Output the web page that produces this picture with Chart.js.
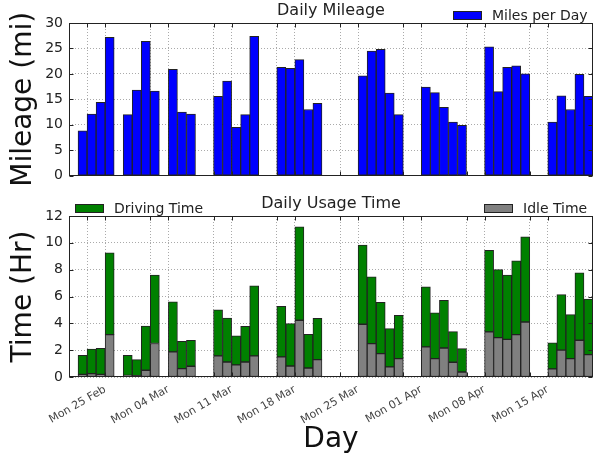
<!DOCTYPE html>
<html>
<head>
<meta charset="utf-8">
<script src="https://cdn.jsdelivr.net/npm/chart.js@4.4.0/dist/chart.umd.min.js"></script>
<style>
  body { margin: 0; background: #fff; }
  #wrap { position: relative; width: 595px; height: 463px; }
  canvas { position: absolute; left: 0; }
  #mileage { top: 0; }
  #usage { top: 190px; }
</style>
</head>
<body>
<div id="wrap">
  <canvas id="mileage" width="595" height="190"></canvas>
  <canvas id="usage" width="595" height="273"></canvas>
</div>
<script>
// days that have a trip, one bar each
const days = [
  '2013-02-22', '2013-02-23', '2013-02-24', '2013-02-25',
  '2013-02-27', '2013-02-28', '2013-03-01', '2013-03-02',
  '2013-03-04', '2013-03-05', '2013-03-06',
  '2013-03-09', '2013-03-10', '2013-03-11', '2013-03-12', '2013-03-13',
  '2013-03-16', '2013-03-17', '2013-03-18', '2013-03-19', '2013-03-20',
  '2013-03-25', '2013-03-26', '2013-03-27', '2013-03-28', '2013-03-29',
  '2013-04-01', '2013-04-02', '2013-04-03', '2013-04-04', '2013-04-05',
  '2013-04-08', '2013-04-09', '2013-04-10', '2013-04-11', '2013-04-12',
  '2013-04-15', '2013-04-16', '2013-04-17', '2013-04-18', '2013-04-19'
];
const miles = [
  8.8, 12.1, 14.4, 27.2,
  12.0, 16.8, 26.4, 16.6,
  20.9, 12.5, 12.1,
  15.6, 18.6, 9.5, 12.0, 27.4,
  21.3, 21.1, 22.8, 13.0, 14.2,
  19.6, 24.5, 24.8, 16.2, 12.0,
  17.4, 16.3, 13.4, 10.5, 9.9,
  25.3, 16.5, 21.3, 21.6, 20.0,
  10.5, 15.7, 13.0, 19.9, 15.6
];
const idleHrs = [
  0.2, 0.25, 0.2, 3.16,
  0.12, 0.1, 0.5, 2.5,
  1.87, 0.62, 0.8,
  1.57, 1.12, 0.9, 1.12, 1.57,
  1.5, 0.82, 4.23, 0.67, 1.3,
  3.93, 2.49, 1.74, 0.75, 1.37,
  2.24, 1.37, 2.16, 1.1, 0.37,
  3.36, 2.94, 2.81, 3.16, 4.1,
  0.6, 2.0, 1.37, 2.74, 1.67
];
const drivingHrs = [
  1.42, 1.84, 1.94, 6.09,
  1.5, 1.2, 3.3, 5.1,
  3.73, 2.04, 1.94,
  3.43, 3.28, 2.16, 2.66, 5.23,
  3.77, 3.16, 6.97, 2.51, 3.08,
  5.9, 4.97, 3.83, 2.85, 3.23,
  4.48, 3.41, 3.56, 2.28, 1.74,
  6.09, 5.06, 4.78, 5.5, 6.35,
  1.94, 4.14, 3.28, 5.02, 4.13
];
const mondays = ['2013-02-25', '2013-03-04', '2013-03-11', '2013-03-18',
                 '2013-03-25', '2013-04-01', '2013-04-08', '2013-04-15'];
const weekLabels = ['Mon 25 Feb', 'Mon 04 Mar', 'Mon 11 Mar', 'Mon 18 Mar',
                    'Mon 25 Mar', 'Mon 01 Apr', 'Mon 08 Apr', 'Mon 15 Apr'];

const START = '2013-02-21';
const SPAN = 58;
const dayIndex = d => (Date.parse(d) - Date.parse(START)) / 86400000;
const mondayX = mondays.map(dayIndex);
// major lines on mondays, minor on the saturday before
const gridX = mondayX.flatMap(m => [m - 2, m]).filter(v => v > 0 && v < SPAN);

Chart.defaults.font.family = 'DejaVu Sans';
Chart.defaults.color = '#222';
Chart.defaults.animation = false;

const GRID = '#aaa';

const boxPlugin = {
  id: 'box',
  afterDatasetsDraw(chart, args, opts) {
    const {ctx, chartArea: a, scales} = chart;
    const L = Math.round(a.left) + 0.5, R = Math.round(a.right) - 0.5;
    const T = Math.round(a.top) + 0.5, B = Math.round(a.bottom) - 0.5;
    ctx.save();
    ctx.strokeStyle = '#222';
    ctx.lineWidth = 1;
    ctx.beginPath();
    scales.x.ticks.forEach(t => {
      const px = Math.round(scales.x.getPixelForValue(t.value)) + 0.5;
      ctx.moveTo(px, B); ctx.lineTo(px, B - 4);
      ctx.moveTo(px, T); ctx.lineTo(px, T + 4);
    });
    scales.y.ticks.forEach(t => {
      const py = Math.round(scales.y.getPixelForValue(t.value)) + 0.5;
      ctx.moveTo(L, py); ctx.lineTo(L + 4, py);
      ctx.moveTo(R, py); ctx.lineTo(R - 4, py);
    });
    ctx.stroke();
    ctx.strokeRect(L, T, R - L, B - T);

    // title
    ctx.fillStyle = '#222';
    ctx.font = '16px "DejaVu Sans"';
    ctx.textAlign = 'center';
    ctx.textBaseline = 'middle';
    ctx.fillText(opts.title, (a.left + a.right) / 2, opts.titleY);

    // legend entries
    ctx.font = '14px "DejaVu Sans"';
    ctx.textAlign = 'left';
    opts.legend.forEach(item => {
      const ds = chart.data.datasets[item.dataset];
      ctx.fillStyle = ds.backgroundColor;
      ctx.fillRect(item.x, item.y, 29, 9);
      ctx.strokeStyle = '#222';
      ctx.strokeRect(item.x + 0.5, item.y + 0.5, 28, 8);
      ctx.fillStyle = '#222';
      ctx.fillText(ds.label, item.x + 39, item.y + 5);
    });
    ctx.restore();
  }
};

function xScale(showLabels) {
  return {
    type: 'linear', min: 0, max: SPAN, offset: false, stacked: true,
    afterBuildTicks: s => { s.ticks = gridX.map(v => ({value: v})); },
    afterFit: s => { s.height = showLabels ? 86 : 7; },
    grid: { offset: false, color: GRID, drawTicks: false },
    border: { display: false, dash: [1, 2] },
    ticks: {
      display: showLabels, autoSkip: false, minRotation: 30, maxRotation: 30,
      padding: 6, color: '#444', font: { size: 11 },
      callback: v => { const k = mondayX.indexOf(v); return k < 0 ? '' : weekLabels[k]; }
    },
    title: { display: showLabels, text: 'Day', font: { size: 28 }, color: '#111', padding: { bottom: 6 } }
  };
}

function yScale(max, step, title) {
  return {
    min: 0, max: max, stacked: true,
    afterFit: s => { s.width = 69; },
    ticks: { stepSize: step, padding: 6, color: '#222', font: { size: 14 } },
    grid: { color: GRID, drawTicks: false },
    border: { display: false, dash: [1, 2] },
    title: { display: true, text: title, font: { size: 28 }, color: '#111', padding: { top: 7 } }
  };
}

const barStyle = {
  barPercentage: 1, categoryPercentage: 1,
  borderWidth: 1, borderColor: '#222', borderSkipped: false
};

const points = vals => days.map((d, i) => ({ x: dayIndex(d) + 0.5, y: vals[i] }));

new Chart(document.getElementById('mileage'), {
  type: 'bar',
  data: {
    datasets: [{ label: 'Miles per Day', data: points(miles), backgroundColor: '#0000ff', ...barStyle }]
  },
  options: {
    responsive: false,
    layout: { padding: { top: 23, right: 2, left: 0, bottom: 0 } },
    plugins: {
      legend: { display: false }, tooltip: { enabled: false },
      box: { title: 'Daily Mileage', titleY: 11, legend: [{ dataset: 0, x: 453, y: 11 }] }
    },
    scales: { x: xScale(false), y: yScale(30, 5, 'Mileage (mi)') }
  },
  plugins: [boxPlugin]
});

new Chart(document.getElementById('usage'), {
  type: 'bar',
  data: {
    datasets: [
      { label: 'Idle Time', data: points(idleHrs), backgroundColor: '#808080', ...barStyle },
      { label: 'Driving Time', data: points(drivingHrs), backgroundColor: '#008000', ...barStyle }
    ]
  },
  options: {
    responsive: false,
    layout: { padding: { top: 26, right: 2, left: 0, bottom: 0 } },
    plugins: {
      legend: { display: false }, tooltip: { enabled: false },
      box: {
        title: 'Daily Usage Time', titleY: 14,
        legend: [{ dataset: 1, x: 75, y: 14 }, { dataset: 0, x: 484, y: 14 }]
      }
    },
    scales: { x: xScale(true), y: yScale(12, 2, 'Time (Hr)') }
  },
  plugins: [boxPlugin]
});
</script>
</body>
</html>
